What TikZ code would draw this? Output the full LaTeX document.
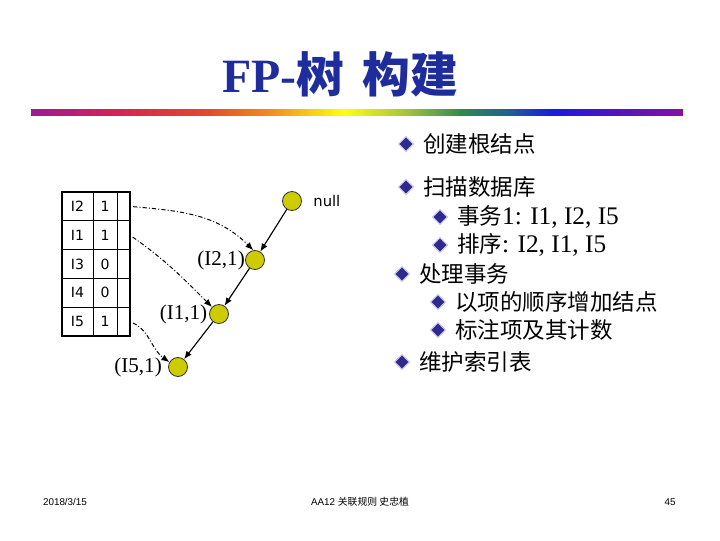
\documentclass[tikz,border=0pt]{standalone}
\usepackage{fontspec}
\setmainfont{Liberation Serif}
\newfontfamily\cjk{Noto Sans CJK SC}
\newfontfamily\tblfont{DejaVu Sans}
\newfontfamily\footfont{Liberation Sans}
\usetikzlibrary{arrows.meta,positioning,fit,shapes.geometric}
\definecolor{TitleBlue}{HTML}{1F2C9C}
\definecolor{NodeYellow}{HTML}{CCCC00}
\definecolor{BulletBlue}{HTML}{2E2A8E}
\definecolor{BulletEdge}{HTML}{C8C4F0}
\definecolor{LinePurple}{HTML}{9A1A9A}
\definecolor{LineMagenta}{HTML}{D4205A}
\definecolor{LineRed}{HTML}{E24A2A}
\definecolor{LineOrange}{HTML}{F09020}
\definecolor{LineYellow}{HTML}{FFFF10}
\definecolor{LineLime}{HTML}{A0C040}
\definecolor{LineGreen}{HTML}{2E8A50}
\definecolor{LineTeal}{HTML}{1E6290}
\definecolor{LineBlue}{HTML}{1A1AE0}
\definecolor{LineViolet}{HTML}{8A10A0}
\pgfdeclarehorizontalshading{rainbow}{100bp}{color(0bp)=(LinePurple); color(25bp)=(LinePurple);
  color(31bp)=(LineMagenta); color(38.5bp)=(LineRed); color(43.5bp)=(LineOrange);
  color(49bp)=(LineYellow); color(54bp)=(LineLime); color(58bp)=(LineGreen);
  color(61.5bp)=(LineTeal); color(65bp)=(LineBlue); color(75bp)=(LineViolet); color(100bp)=(LineViolet)}
\newcommand{\lat}[1]{{\rmfamily\fontsize{18}{19}\selectfont #1}}

\begin{document}
\begin{tikzpicture}[
  x=0.025cm, y=0.025cm,
  node distance=0mm,
  cell/.style={draw,line width=0.6pt,minimum height=7.2mm,inner sep=0,outer sep=0,font=\tblfont\fontsize{10}{12}\selectfont},
  tnode/.style={circle,draw=black!80,line width=0.6pt,fill=NodeYellow,minimum size=4.75mm,inner sep=0},
  lbl/.style={inner sep=0,font=\fontsize{15}{18}\selectfont},
  bul/.style={diamond,fill=BulletBlue,draw=BulletEdge,line width=0.7pt,inner sep=0,minimum size=3.8mm},
  item/.style={inner sep=0,font=\cjk\fontsize{16}{19}\selectfont},
  arr/.style={-{Latex[length=2mm,width=1.6mm]},line width=0.8pt},
  ptr/.style={-{Latex[length=2mm,width=1.6mm]},line width=0.7pt,dash pattern=on 3pt off 1.5pt on 0.7pt off 1.5pt,shorten <=0.8mm},
  foot/.style={font=\footfont\fontsize{7}{8}\selectfont}
]
\useasboundingbox (0,0) rectangle (720,540);
\node[font=\bfseries\fontsize{34}{40}\selectfont,text=TitleBlue] (title) at (340,466) {FP-{\cjk 树\hspace{0.15em} 构建}};
\shade[shading=rainbow] (31,424) rectangle (683,430);

\foreach \nm/\ct [count=\r] in {I2/1,I1/1,I3/0,I4/0,I5/1} {
  \node[cell,minimum width=7.75mm] (nm\r) at (77.5,{333.6-28.8*(\r-1)}) {\nm};
  \node[cell,minimum width=6mm,right=of nm\r] (ct\r) {\ct};
  \node[cell,minimum width=3.25mm,right=of ct\r] (pt\r) {};
}
\node[draw,line width=1.3pt,inner sep=0,fit=(nm1)(pt5)] (tbl) {};

\node[tnode,label={[font=\tblfont\fontsize{10.5}{12}\selectfont,inner sep=0,label distance=2.8mm]right:null}] (null) at (292,339) {};
\node[tnode,label={[lbl]left:(I2,1)}] (i2) at (255,280) {};
\node[tnode,label={[lbl,label distance=0.4mm]left:(I1,1)}] (i1) at (219,226) {};
\node[tnode,label={[lbl,label distance=1.5mm]left:(I5,1)}] (i5) at (178,173) {};
\draw[arr] (null) -- (i2);
\draw[arr] (i2) -- (i1);
\draw[arr] (i1) -- (i5);
\draw[ptr] (pt1.east) to[out=-5,in=135] (i2.100);
\draw[ptr] (pt2.east) to[out=-35,in=135] (i1.135);
\draw[ptr] (pt5.east) to[out=-25,in=145] (i5.150);

\foreach \bx/\by/\txt [count=\k] in {406/396/{创建根结点},406/353/{扫描数据库},
    440/323/{事务\lat{1: I1, I2, I5}},440/295/{排序\lat{: I2, I1, I5}},
    402/266/{处理事务},438/238/{以项的顺序增加结点},438/210/{标注项及其计数},402/178/{维护索引表}} {
  \node[bul] (b\k) at (\bx,\by) {};
  \node[item,right=2.2mm of b\k] (t\k) {\txt};
}

\node[foot] (date) at (65,38) {2018/3/15};
\node[foot] (course) at (360,38) {AA12 {\cjk 关联规则 史忠植}};
\node[foot] (page) at (670,38) {45};
\end{tikzpicture}
\end{document}
